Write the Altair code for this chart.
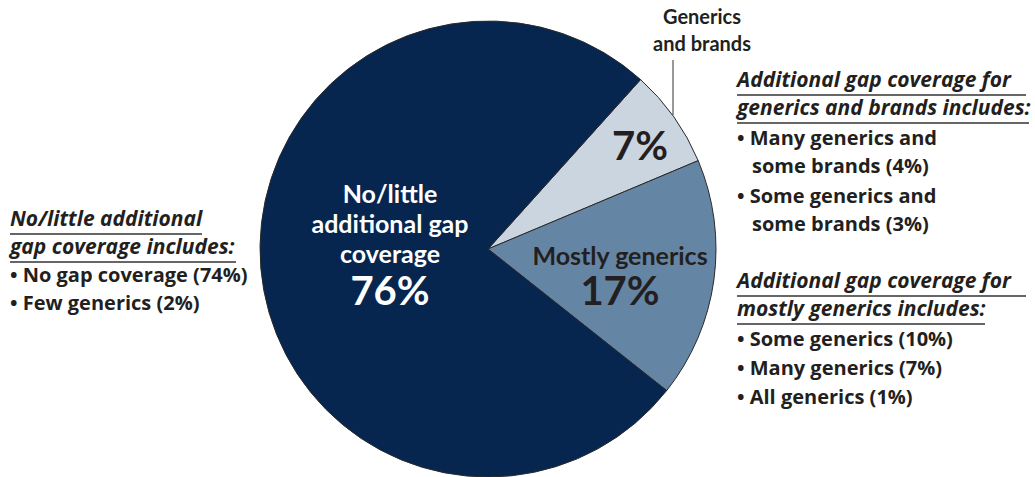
import math
import altair as alt
import pandas as pd

# ---- data ----
segments = ["Generics and brands", "Mostly generics", "No/little additional gap coverage"]
shares = [7, 17, 76]
seg_order = [1, 2, 3]
seg_colors = ["#cbd5df", "#6585a5", "#062650"]

left_title = ["No/little additional", "gap coverage includes:"]
left_items = ["\u2022 No gap coverage (74%)", "\u2022 Few generics (2%)"]

right1_title = ["Additional gap coverage for", "generics and brands includes:"]
right1_items = ["\u2022 Many generics and", "some brands (4%)", "\u2022 Some generics and", "some brands (3%)"]

right2_title = ["Additional gap coverage for", "mostly generics includes:"]
right2_items = ["\u2022 Some generics (10%)", "\u2022 Many generics (7%)", "\u2022 All generics (1%)"]

FONT = "Lato"
SIDE_FONT = "Open Sans"
DARK = "#231f20"
W, H = 1035, 477
CX, CY, R = 488, 249, 228
START = math.radians(42)

pie_df = pd.DataFrame({"segment": segments, "share": shares, "ord": seg_order})

pie = alt.Chart(pie_df).mark_arc(radius=R, stroke="#2a2a2a", strokeWidth=1).encode(
    theta=alt.Theta("share:Q", stack=True, scale=alt.Scale(range=[START, START + 2 * math.pi])),
    order=alt.Order("ord:Q"),
    color=alt.Color("segment:N", scale=alt.Scale(domain=segments, range=seg_colors), legend=None),
    x=alt.value(CX),
    y=alt.value(CY),
)


def text_layer(rows, size, color=DARK, italic=False, align="left", font=FONT, weight="bold"):
    df = pd.DataFrame(rows, columns=["x", "y", "t"])
    return alt.Chart(df).mark_text(
        font=font, fontSize=size, fontWeight=weight, color=color,
        fontStyle="italic" if italic else "normal", align=align, baseline="middle",
    ).encode(
        x=alt.X("x:Q", scale=None, axis=None),
        y=alt.Y("y:Q", scale=None, axis=None),
        text="t:N",
    )


# pie labels
in_white = text_layer([(390, 195, "No/little"), (390, 225, "additional gap"), (390, 255, "coverage")],
                      25, color="white", align="center")
in_white_big = text_layer([(390, 293, "76%")], 40, color="white", align="center")
in_mid = text_layer([(620, 257, segments[1])], 25, align="center")
in_mid_big = text_layer([(620, 293, "17%"), (640, 148, "7%")], 40, align="center")
callout = text_layer([(702, 18, "Generics"), (702, 45, "and brands")], 20, align="center")

leader = alt.Chart(pd.DataFrame({"a": [0]})).mark_rule(color="#333", strokeWidth=1).encode(
    x=alt.value(673), y=alt.value(60), y2=alt.value(115))

# side notes
TSZ = 21
ISZ = 20
left_t = text_layer([(10, 220, left_title[0]), (10, 248, left_title[1])], TSZ, italic=True, font=SIDE_FONT)
left_i = text_layer([(10, 276, left_items[0]), (10, 304, left_items[1])], ISZ, font=SIDE_FONT)

r1_t = text_layer([(737, 81, right1_title[0]), (737, 109, right1_title[1])], TSZ, italic=True, font=SIDE_FONT)
r1_i = text_layer([(737, 139, right1_items[0]), (752, 167, right1_items[1]),
                   (737, 197, right1_items[2]), (752, 225, right1_items[3])], ISZ, font=SIDE_FONT)

r2_t = text_layer([(737, 282, right2_title[0]), (737, 310, right2_title[1])], TSZ, italic=True, font=SIDE_FONT)
r2_i = text_layer([(737, 340, right2_items[0]), (737, 369, right2_items[1]),
                   (737, 398, right2_items[2])], ISZ, font=SIDE_FONT)

ul_df = pd.DataFrame({
    "x": [10, 10, 737, 737, 737, 737],
    "x2": [202, 236, 1026, 1029, 1026, 985],
    "y": [234, 262, 95, 123, 296, 324],
})
underlines = alt.Chart(ul_df).mark_rule(color="#333", strokeWidth=1.3).encode(
    x=alt.X("x:Q", scale=None, axis=None),
    x2="x2:Q",
    y=alt.Y("y:Q", scale=None, axis=None),
)

chart = alt.layer(
    pie, in_white, in_white_big, in_mid, in_mid_big, callout, leader,
    left_t, left_i, r1_t, r1_i, r2_t, r2_i, underlines,
).properties(
    width=W, height=H, padding=0, autosize="none", background="white",
).configure_view(strokeWidth=0)

chart.save("out.html", embed_options={"renderer": "svg", "actions": False})
